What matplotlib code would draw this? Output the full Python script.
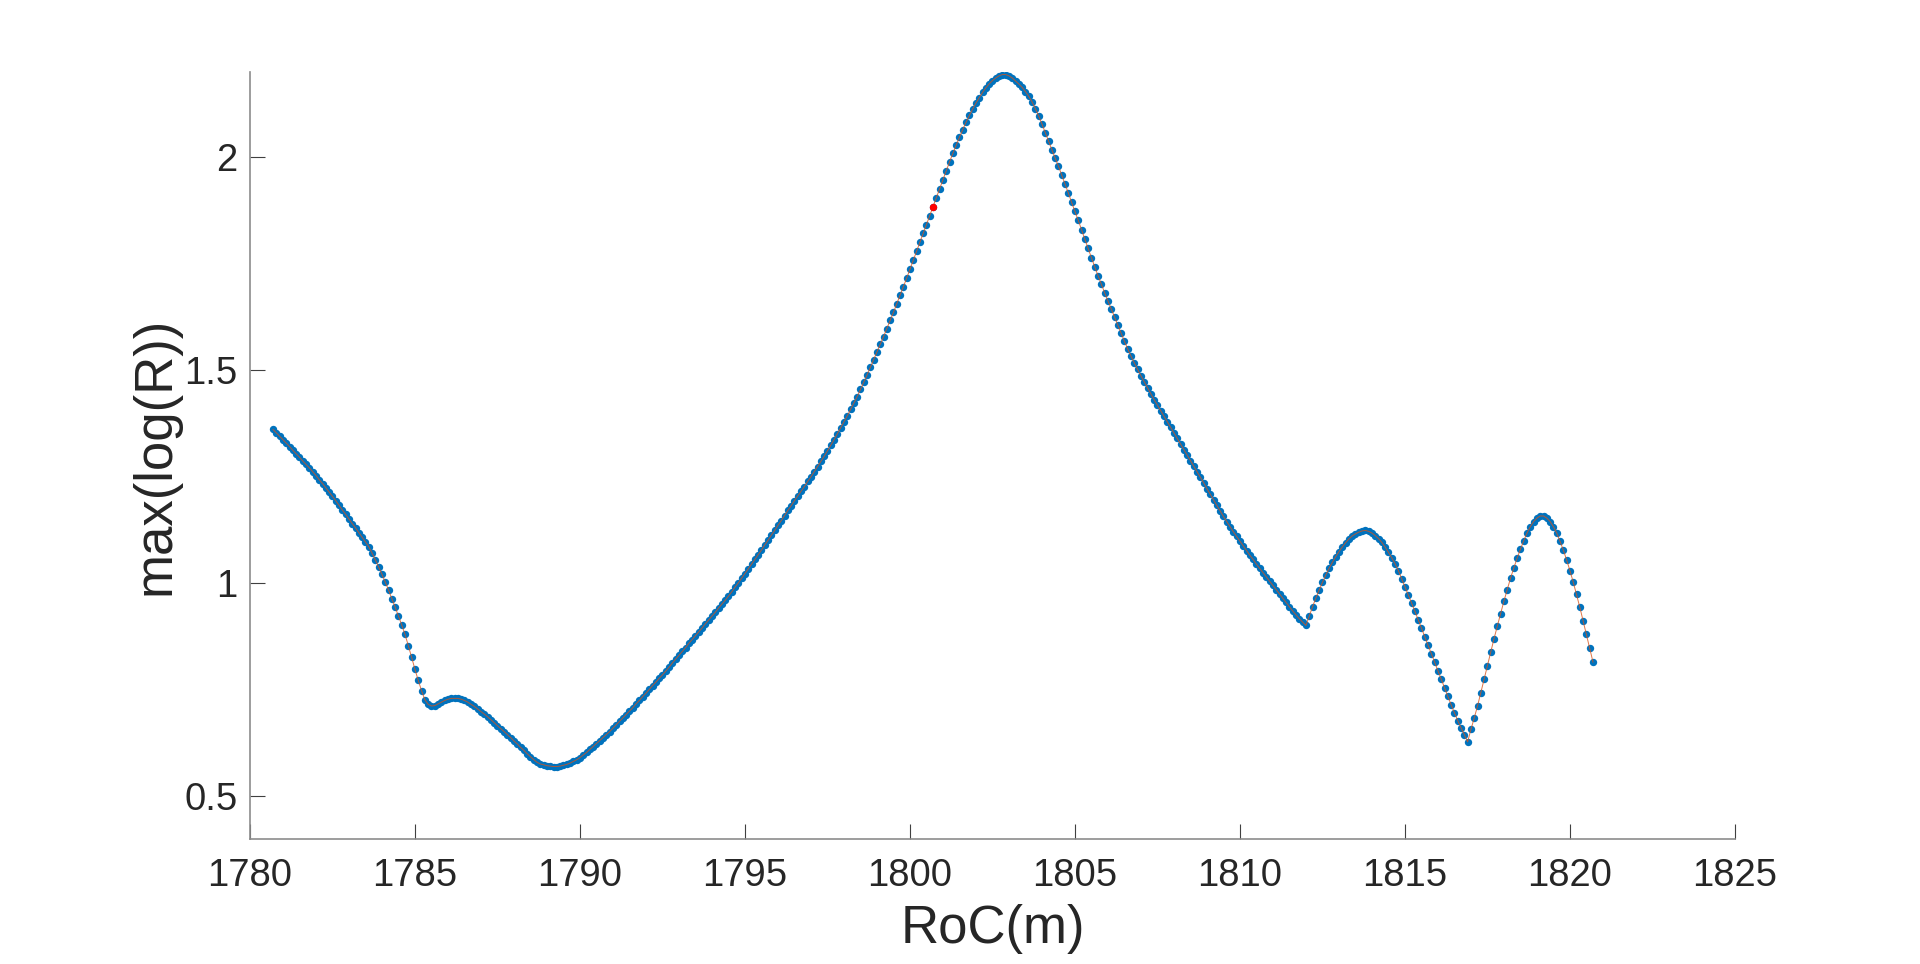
import matplotlib
matplotlib.use("Agg")
import matplotlib.pyplot as plt
import numpy as np
from matplotlib.ticker import FuncFormatter

# RoC scan, 0.1 m steps
roc_start = 1780.7
roc_step = 0.1
max_log_r = [
    1.361, 1.353, 1.345, 1.337, 1.329, 1.321, 1.312, 1.304, 1.296, 1.287,
    1.279, 1.271, 1.262, 1.253, 1.243, 1.234, 1.224, 1.214, 1.204, 1.194,
    1.183, 1.172, 1.162, 1.151, 1.140, 1.130, 1.119, 1.108, 1.097, 1.086,
    1.071, 1.055, 1.038, 1.021, 1.003, 0.984, 0.964, 0.944, 0.923, 0.902,
    0.880, 0.853, 0.826, 0.798, 0.772, 0.748, 0.727, 0.716, 0.712, 0.713,
    0.717, 0.721, 0.725, 0.728, 0.730, 0.730, 0.730, 0.728, 0.725, 0.721,
    0.716, 0.711, 0.705, 0.699, 0.693, 0.687, 0.680, 0.673, 0.666, 0.659,
    0.652, 0.645, 0.638, 0.630, 0.623, 0.615, 0.608, 0.600, 0.593, 0.586,
    0.580, 0.576, 0.574, 0.572, 0.571, 0.570, 0.570, 0.571, 0.573, 0.575,
    0.578, 0.582, 0.586, 0.591, 0.597, 0.603, 0.610, 0.617, 0.624, 0.631,
    0.638, 0.645, 0.652, 0.660, 0.668, 0.676, 0.684, 0.692, 0.700, 0.708,
    0.717, 0.725, 0.734, 0.742, 0.751, 0.760, 0.768, 0.777, 0.785, 0.794,
    0.803, 0.813, 0.822, 0.831, 0.840, 0.849, 0.859, 0.868, 0.877, 0.886,
    0.895, 0.905, 0.914, 0.923, 0.932, 0.942, 0.951, 0.960, 0.970, 0.980,
    0.991, 1.001, 1.012, 1.023, 1.034, 1.045, 1.056, 1.067, 1.078, 1.090,
    1.101, 1.113, 1.124, 1.136, 1.147, 1.159, 1.171, 1.182, 1.194, 1.205,
    1.216, 1.227, 1.239, 1.250, 1.262, 1.274, 1.286, 1.298, 1.311, 1.324,
    1.337, 1.351, 1.365, 1.379, 1.393, 1.408, 1.423, 1.438, 1.455, 1.472,
    1.489, 1.507, 1.525, 1.543, 1.561, 1.579, 1.598, 1.617, 1.636, 1.656,
    1.676, 1.696, 1.716, 1.737, 1.758, 1.779, 1.800, 1.821, 1.842, 1.863,
    1.884, 1.905, 1.926, 1.947, 1.968, 1.989, 2.009, 2.028, 2.047, 2.065,
    2.082, 2.098, 2.113, 2.127, 2.140, 2.152, 2.163, 2.172, 2.180, 2.186,
    2.191, 2.194, 2.194, 2.191, 2.186, 2.179, 2.172, 2.164, 2.154,
    2.143, 2.130, 2.114, 2.097, 2.078, 2.058, 2.038, 2.018, 1.998, 1.979,
    1.958, 1.937, 1.916, 1.894, 1.873, 1.852, 1.830, 1.808, 1.786, 1.764,
    1.743, 1.722, 1.702, 1.682, 1.663, 1.644, 1.625, 1.606, 1.587, 1.568,
    1.550, 1.533, 1.517, 1.502, 1.487, 1.473, 1.459, 1.445, 1.431, 1.418,
    1.405, 1.392, 1.379, 1.366, 1.353, 1.340, 1.327, 1.314, 1.301, 1.288,
    1.275, 1.262, 1.249, 1.236, 1.222, 1.209, 1.196, 1.183, 1.170, 1.157,
    1.145, 1.133, 1.121, 1.110, 1.099, 1.088, 1.077, 1.066, 1.056, 1.045,
    1.035, 1.025, 1.015, 1.005, 0.995, 0.985, 0.975, 0.965, 0.955, 0.945,
    0.935, 0.926, 0.917, 0.909, 0.901, 0.923, 0.945, 0.965, 0.984, 1.002,
    1.019, 1.035, 1.049, 1.062, 1.074, 1.085, 1.095, 1.104, 1.111,
    1.116, 1.120, 1.123, 1.124, 1.122, 1.118, 1.112, 1.105, 1.096, 1.085,
    1.073, 1.060, 1.046, 1.030, 1.011, 0.992, 0.973, 0.954, 0.935, 0.915,
    0.895, 0.875, 0.855, 0.835, 0.815, 0.795, 0.775, 0.755, 0.735, 0.715,
    0.696, 0.678, 0.661, 0.645, 0.628, 0.657, 0.684, 0.712, 0.743, 0.775,
    0.807, 0.839, 0.870, 0.900, 0.929, 0.958, 0.985, 1.012, 1.036, 1.059,
    1.080, 1.100, 1.118, 1.133, 1.145, 1.153, 1.158, 1.158, 1.153, 1.145,
    1.133, 1.118, 1.099, 1.078, 1.055, 1.030, 1.003, 0.974, 0.944, 0.912,
    0.880, 0.848, 0.815,
]
roc = roc_start + roc_step * np.arange(len(max_log_r))
y = np.array(max_log_r)
mark_idx = 200  # highlighted point (red)

plt.rcParams['font.family'] = ['Liberation Sans', 'DejaVu Sans']

fig = plt.figure(figsize=(19.2, 9.64), dpi=100)
ax = fig.add_axes([0.1302, 0.1297, 0.7734, 0.7956])

ax.plot(roc, y, 'o', color='#0072BD', markersize=5.3, markeredgewidth=0)
ax.plot(roc, y, '-', color='#D95319', linewidth=0.7, alpha=0.8)
ax.plot(roc[mark_idx], y[mark_idx], 'o', color='#FF0000', markersize=5.3,
        markeredgewidth=0)

ax.set_xlim(1780, 1825)
ax.set_ylim(0.4, 2.2)
ax.set_xticks(np.arange(1780, 1826, 5))
ax.set_yticks([0.5, 1, 1.5, 2])
ax.yaxis.set_major_formatter(FuncFormatter(lambda v, p: '%g' % v))

for s in ['top', 'right']:
    ax.spines[s].set_visible(False)
for s in ['left', 'bottom']:
    ax.spines[s].set_color('#8c8c8c')
    ax.spines[s].set_linewidth(1.2)

ax.tick_params(axis='both', direction='in', length=10.5, width=0.8,
               color='#404040', labelcolor='#262626', labelsize=27.5)
ax.tick_params(axis='x', pad=14)
ax.tick_params(axis='y', pad=9)

ax.set_xlabel('RoC(m)', fontsize=38, color='#262626')
ax.set_ylabel('max(log(R))', fontsize=38, color='#262626')
ax.xaxis.set_label_coords(0.5, -0.085)
ax.yaxis.set_label_coords(-0.047, 0.5)

fig.savefig('out.png', dpi=100, facecolor='white')
